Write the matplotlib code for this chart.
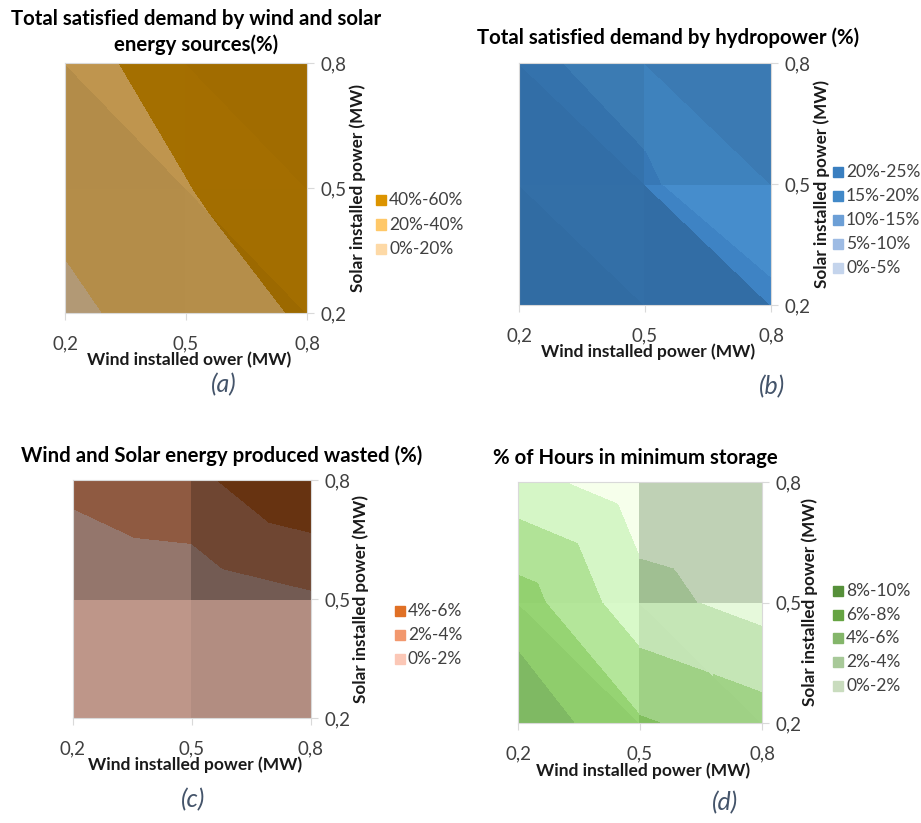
import numpy as np
import matplotlib
matplotlib.use("Agg")
import matplotlib.pyplot as plt
import matplotlib.tri as mtri
from matplotlib.colors import to_rgb

plt.rcParams['font.family'] = ['Lato', 'DejaVu Sans']

# grid of installed power (MW)
wind = [0.2, 0.5, 0.8]
solar = [0.2, 0.5, 0.8]
tick_labels = ['0,2', '0,5', '0,8']

# rows: solar 0.2 / 0.5 / 0.8, columns: wind 0.2 / 0.5 / 0.8
renewable_share = [[15.6, 29.6, 42.1],
                   [25.5, 39.5, 48.0],
                   [36.3, 44.5, 55.0]]
hydro_share = [[23.0, 22.0, 21.0],
               [22.0, 20.5, 16.3],
               [20.7, 18.6, 15.5]]
wasted_share = [[0.0, 0.3, 1.3],
                [0.37, 0.67, 1.68],
                [2.5, 3.5, 5.8]]
min_storage_hours = [[9.5, 6.2, 4.9],
                     [6.95, 2.63, 1.26],
                     [2.67, 0.86, 0.33]]

renewable_bands = [0, 20, 40, 60]
renewable_labels = ['0%-20%', '20%-40%', '40%-60%']
hydro_bands = [0, 5, 10, 15, 20, 25]
hydro_labels = ['0%-5%', '5%-10%', '10%-15%', '15%-20%', '20%-25%']
wasted_bands = [0, 2, 4, 6]
wasted_labels = ['0%-2%', '2%-4%', '4%-6%']
storage_bands = [0, 2, 4, 6, 8, 10]
storage_labels = ['0%-2%', '2%-4%', '4%-6%', '6%-8%', '8%-10%']

renewable_colors = ['#fdd9a6', '#ffc868', '#dc9400']
hydro_colors = ['#c4d4ec', '#9dbbe4', '#6c9fd6', '#4289c8', '#3a7fc0']
wasted_colors = ['#fbc7b6', '#f2986e', '#e07025']
storage_colors = ['#c9dcbe', '#a8c999', '#84b66a', '#66a443', '#56903a']

W, H = 921, 823
fig = plt.figure(figsize=(W / 100, H / 100), dpi=100)

TICK_GREY = '#404040'
CAPTION = '#44546a'


def fx(x):
    return x / W


def fy(y):
    return 1 - y / H


def grid_triangles(rising):
    # two triangles per cell; rising[r] picks the diagonal used in row r
    tris = []
    for r in range(2):
        for c in range(2):
            p00 = r * 3 + c
            p10, p01, p11 = p00 + 1, p00 + 3, p00 + 4
            if rising[r]:
                tris += [[p00, p10, p11], [p00, p11, p01]]
            else:
                tris += [[p00, p10, p01], [p10, p11, p01]]
    return tris


def lighting(px, py, pz, zmax, relief):
    # flat shading of a facet lit from the upper right
    X = (px - 0.2) / 0.6
    Y = (py - 0.2) / 0.6
    Z = pz / zmax * relief
    gx, gy, _ = np.linalg.solve(np.column_stack([X, Y, np.ones(3)]), Z)
    s = -(gx + gy)
    mult = 0.8 + (0.3 * s if s > 0 else 0.2 * s)
    mult = min(max(mult, 0.45), 1.0)
    glow = 0.19 * min(1.0, max(0.0, (s - 0.65) / 0.75))
    return mult, glow


def draw_surface(box, z, bands, colors, rising, relief, title, title_xy,
                 xlabel, xlabel_y, ylabel, ylabel_x, caption, caption_xy,
                 labels, legend_xy, legend_step):
    x0, x1, y0, y1 = box
    ax = fig.add_axes([fx(x0), fy(y1), fx(x1 - x0), (y1 - y0) / H])
    gxm, gym = np.meshgrid(wind, solar)
    px, py, pz = gxm.ravel(), gym.ravel(), np.asarray(z, float).ravel()
    for tri in grid_triangles(rising):
        mult, glow = lighting(px[tri], py[tri], pz[tri], bands[-1], relief)
        cols = [tuple(np.clip(np.array(to_rgb(c)) * mult + glow, 0, 1)) for c in colors]
        t = mtri.Triangulation(px[tri], py[tri], [[0, 1, 2]])
        cs = ax.tricontourf(t, pz[tri], levels=bands, colors=cols)
        cs.set_edgecolor('face')
        cs.set_linewidth(0.6)

    ax.set_xlim(0.2, 0.8)
    ax.set_ylim(0.2, 0.8)
    ax.set_xticks(wind)
    ax.set_xticklabels(tick_labels)
    ax.set_yticks(solar)
    ax.set_yticklabels(tick_labels)
    ax.yaxis.tick_right()
    ax.tick_params(colors='#d9d9d9', labelcolor=TICK_GREY, labelsize=13.5,
                   length=5, width=0.8, direction='out')
    ax.tick_params(axis='x', pad=11)
    ax.tick_params(axis='y', pad=5)
    for sp in ax.spines.values():
        sp.set_color('#d9d9d9')
        sp.set_linewidth(0.8)

    fig.text(fx(title_xy[0]), fy(title_xy[1]), title, ha='center', va='center',
             fontsize=14.7, fontweight='bold', color='black', linespacing=1.3)
    fig.text(fx((x0 + x1) / 2 + 3), fy(xlabel_y), xlabel, ha='center', va='center',
             fontsize=12.5, fontweight='bold', color='#1a1a1a')
    fig.text(fx(ylabel_x), fy((y0 + y1) / 2), ylabel, ha='center', va='center',
             rotation=90, fontsize=12.3, fontweight='bold', color='#1a1a1a')
    fig.text(fx(caption_xy[0]), fy(caption_xy[1]), caption, ha='center', va='center',
             fontsize=18, fontstyle='italic', color=CAPTION)

    # legend, highest band first
    lx, ly = legend_xy
    for i, (lab, col) in enumerate(zip(labels[::-1], colors[::-1])):
        yy = ly + i * legend_step
        fig.patches.append(plt.Rectangle((fx(lx), fy(yy + 5)), 10 / W, 10 / H,
                                         transform=fig.transFigure, color=col))
        fig.text(fx(lx + 13), fy(yy), lab, ha='left', va='center',
                 fontsize=12.5, color=TICK_GREY)
    return ax


draw_surface((65, 307, 63, 313), renewable_share, renewable_bands, renewable_colors,
             (False, False), 0.6,
             'Total satisfied demand by wind and solar\nenergy sources(%)', (196, 32),
             'Wind installed ower (MW)', 360, 'Solar installed power (MW)', 358,
             '(a)', (224, 385), renewable_labels, (376, 200), 24.5)

draw_surface((519, 771, 63, 305), hydro_share, hydro_bands, hydro_colors,
             (False, False), 1.0,
             'Total satisfied demand by hydropower (%)', (668, 38),
             'Wind installed power (MW)', 352, 'Solar installed power (MW)', 822,
             '(b)', (772, 387), hydro_labels, (833, 172), 24)

draw_surface((73, 311, 480, 718), wasted_share, wasted_bands, wasted_colors,
             (True, True), 1.0,
             'Wind and Solar energy produced wasted (%)', (222, 456),
             'Wind installed power (MW)', 765, 'Solar installed power (MW)', 361,
             '(c)', (193, 800), wasted_labels, (395, 611), 24)

draw_surface((518, 762, 482, 723), min_storage_hours, storage_bands, storage_colors,
             (False, True), 1.1,
             '% of Hours in minimum storage', (635, 458),
             'Wind installed power (MW)', 771, 'Solar installed power (MW)', 810,
             '(d)', (725, 803), storage_labels, (833, 591), 23.7)

fig.savefig('out.png', dpi=100)
